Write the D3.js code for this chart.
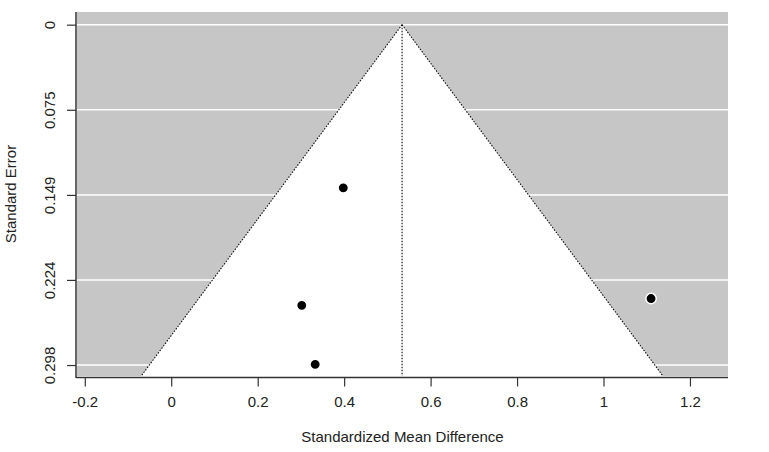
<!DOCTYPE html>
<html>
<head>
<meta charset="utf-8">
<script src="https://cdn.jsdelivr.net/npm/d3@7"></script>
<style>
  body { margin: 0; background: #fff; }
  svg text { font-family: "Liberation Sans", Arial, sans-serif; fill: #222; }
</style>
</head>
<body>
<svg id="chart" width="769" height="452"></svg>
<script>
// study effects (standardized mean difference) and their standard errors
var effects = [0.398, 0.302, 0.333, 1.110];
var stdErrors = [0.143, 0.246, 0.2977, 0.240];
var pooled = 0.534;

var xTicks = [-0.2, 0, 0.2, 0.4, 0.6, 0.8, 1, 1.2];
var xTickLabels = ["-0.2", "0", "0.2", "0.4", "0.6", "0.8", "1", "1.2"];
var yTicks = [0, 0.0746, 0.1492, 0.2237, 0.2983];
var yTickLabels = ["0", "0.075", "0.149", "0.224", "0.298"];

var svg = d3.select("#chart");

var plotLeft = 77, plotRight = 728, plotTop = 12, plotBottom = 376;
var x = d3.scaleLinear().domain([-0.218, 1.288]).range([plotLeft, plotRight]);
var y = d3.scaleLinear().domain([-0.0111, 0.3079]).range([plotTop, plotBottom]);

var seMax = y.domain()[1];

// gray background
svg.append("rect")
    .attr("x", plotLeft).attr("y", plotTop)
    .attr("width", plotRight - plotLeft).attr("height", plotBottom - plotTop)
    .attr("fill", "#c6c6c6");

// white horizontal lines at the y ticks
svg.selectAll("line.grid")
    .data(yTicks)
    .enter()
    .append("line")
    .attr("class", "grid")
    .attr("x1", plotLeft).attr("x2", plotRight)
    .attr("y1", function(d){ return y(d); })
    .attr("y2", function(d){ return y(d); })
    .attr("stroke", "#fff")
    .attr("stroke-width", 1.5);

// white funnel region
var funnel = [[pooled, 0], [pooled - 1.96 * seMax, seMax], [pooled + 1.96 * seMax, seMax]];
svg.append("polygon")
    .attr("points", funnel.map(function(p){ return x(p[0]) + "," + y(p[1]); }).join(" "))
    .attr("fill", "#fff");

// dotted funnel edges
[[funnel[0], funnel[1]], [funnel[0], funnel[2]]].forEach(function(seg){
    svg.append("line")
        .attr("x1", x(seg[0][0])).attr("y1", y(seg[0][1]))
        .attr("x2", x(seg[1][0])).attr("y2", y(seg[1][1]))
        .attr("stroke", "#111")
        .attr("stroke-width", 1.1)
        .attr("stroke-dasharray", "1.5,1.5");
});

// dotted line at pooled estimate
svg.append("line")
    .attr("x1", x(pooled)).attr("x2", x(pooled))
    .attr("y1", y(0)).attr("y2", plotBottom)
    .attr("stroke", "#111")
    .attr("stroke-width", 1.1)
    .attr("stroke-dasharray", "1.5,1.5");

// study points
svg.selectAll("circle")
    .data(effects)
    .enter()
    .append("circle")
    .attr("cx", function(d){ return x(d); })
    .attr("cy", function(d, i){ return y(stdErrors[i]); })
    .attr("r", 5.2)
    .attr("fill", "#000")
    .attr("stroke", "#fff")
    .attr("stroke-width", 1.5);

// x axis
var xAxis = d3.axisBottom(x)
    .tickValues(xTicks)
    .tickFormat(function(d, i){ return xTickLabels[i]; })
    .tickSize(9)
    .tickPadding(10)
    .tickSizeOuter(0);
var gx = svg.append("g")
    .attr("transform", "translate(0," + (plotBottom + 1.5) + ")")
    .call(xAxis);
gx.select(".domain").attr("d", "M" + (plotLeft - 1) + ",0H" + plotRight).attr("stroke", "#333").attr("stroke-width", 1.5);
gx.selectAll(".tick line").attr("stroke", "#333").attr("stroke-width", 1.2);
gx.selectAll(".tick text")
    .style("font-family", "'Liberation Sans', Arial, sans-serif")
    .style("font-size", "15px")
    .attr("fill", "#222");

// y axis
var yAxis = d3.axisLeft(y)
    .tickValues(yTicks)
    .tickFormat(function(d, i){ return yTickLabels[i]; })
    .tickSize(9)
    .tickSizeOuter(0);
var gy = svg.append("g")
    .attr("transform", "translate(" + (plotLeft - 1) + ",0)")
    .call(yAxis);
gy.select(".domain").attr("d", "M0," + plotTop + "V" + (plotBottom + 2)).attr("stroke", "#333").attr("stroke-width", 1.5);
gy.selectAll(".tick line").attr("stroke", "#333").attr("stroke-width", 1.2);
gy.selectAll(".tick text")
    .attr("x", null).attr("dy", null)
    .attr("transform", "translate(-27,0) rotate(-90)")
    .attr("text-anchor", "middle")
    .attr("dominant-baseline", "central")
    .style("font-family", "'Liberation Sans', Arial, sans-serif")
    .style("font-size", "15px")
    .attr("fill", "#222");

// axis titles
svg.append("text")
    .attr("x", (plotLeft + plotRight) / 2)
    .attr("y", 442)
    .attr("text-anchor", "middle")
    .style("font-size", "15px")
    .text("Standardized Mean Difference");

svg.append("text")
    .attr("transform", "translate(16," + ((plotTop + plotBottom) / 2) + ") rotate(-90)")
    .attr("text-anchor", "middle")
    .style("font-size", "15px")
    .text("Standard Error");
</script>
</body>
</html>
